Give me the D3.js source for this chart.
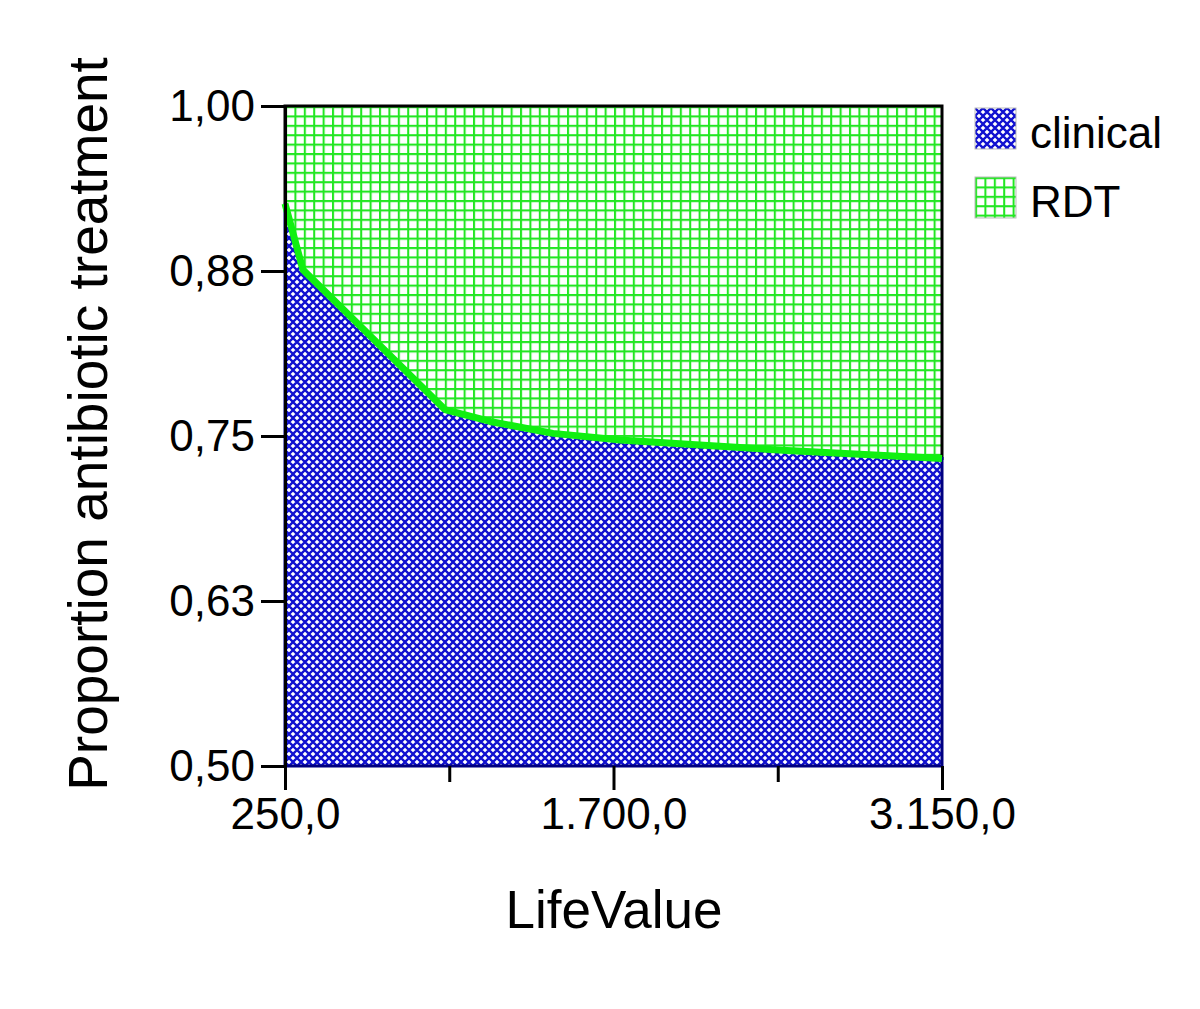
<!DOCTYPE html>
<html>
<head>
<meta charset="utf-8">
<script src="https://cdn.jsdelivr.net/npm/d3@7"></script>
<style>
  body { margin: 0; background: #fff; }
  text { font-family: "Liberation Sans", Arial, sans-serif; fill: #000; }
</style>
</head>
<body>
<div id="chart"></div>
<script>
// values
var lifeValue    = [250, 329, 956, 1155, 1433, 1729, 2466, 3150];
var clinicalProp = [0.926, 0.876, 0.770, 0.761, 0.752, 0.747, 0.739, 0.733];
var xTicks = [250, 975, 1700, 2425, 3150];
var xLabelled = [250, 1700, 3150];
var yTicks = [0.5, 0.625, 0.75, 0.875, 1.0];
var legendItems = ["clinical", "RDT"];

var width = 1200, height = 1009;
var margin = {top: 106, right: 258, bottom: 243, left: 285},
  plotW = width - margin.left - margin.right,
  plotH = height - margin.top - margin.bottom;

var de = d3.formatLocale({decimal: ",", thousands: ".", grouping: [3], currency: ["", ""]});
var fmtX = de.format(",.1f"),
  fmtY = de.format(".2f");

var x = d3.scaleLinear().domain([250, 3150]).range([0, plotW]);
var y = d3.scaleLinear().domain([0.5, 1.0]).range([plotH, 0]);

var svg = d3.select("#chart").append("svg")
  .attr("width", width)
  .attr("height", height);

var defs = svg.append("defs");

// green grid (RDT)
var gp = defs.append("pattern").attr("id", "grid")
  .attr("patternUnits", "userSpaceOnUse")
  .attr("x", 0).attr("y", 0)
  .attr("width", 9.4).attr("height", 9.4);
gp.append("rect").attr("width", 9.4).attr("height", 9.4).attr("fill", "#fff");
gp.append("path").attr("d", "M1,0V9.4M0,1H9.4")
  .attr("stroke", "#22e622").attr("stroke-width", 2.1).attr("fill", "none");

// blue crosshatch (clinical)
var bp = defs.append("pattern").attr("id", "hatch")
  .attr("patternUnits", "userSpaceOnUse")
  .attr("width", 8).attr("height", 8);
bp.append("rect").attr("width", 8).attr("height", 8).attr("fill", "#fff");
bp.append("path").attr("d", "M-4,-4L12,12M12,-4L-4,12")
  .attr("stroke", "#1010d0").attr("stroke-width", 2.3).attr("fill", "none");

var g = svg.append("g").attr("transform", "translate(" + margin.left + "," + margin.top + ")");

var pts = lifeValue.map(function (v, i) { return [v, clinicalProp[i]]; });
var line = d3.line().x(function (d) { return x(d[0]); }).y(function (d) { return y(d[1]); });

// RDT region (above boundary)
var rdtPts = [[250, 1], [3150, 1]].concat(pts.slice().reverse());
g.append("path")
  .attr("d", line(rdtPts) + "Z")
  .attr("fill", "url(#grid)")
  .attr("stroke", "#000").attr("stroke-width", 3);

// clinical region (below boundary)
var clinPts = pts.concat([[3150, 0.5], [250, 0.5]]);
g.append("path")
  .attr("d", line(clinPts) + "Z")
  .attr("fill", "url(#hatch)")
  .attr("stroke", "#000080").attr("stroke-width", 3);

// boundary line
g.append("path")
  .attr("d", line(pts))
  .attr("fill", "none")
  .attr("stroke", "#10f010").attr("stroke-width", 7)
  .attr("stroke-linejoin", "round");

// y axis
var yAxis = g.append("g")
  .call(d3.axisLeft(y).tickValues(yTicks).tickSize(24).tickSizeOuter(0).tickPadding(6)
    .tickFormat(function (d) { return fmtY(d); }));
yAxis.select(".domain").attr("stroke", "#000").attr("stroke-width", 3);
yAxis.selectAll(".tick line").attr("stroke", "#000").attr("stroke-width", 3);
yAxis.selectAll(".tick text").attr("font-size", 44).attr("font-family", "Liberation Sans, Arial, sans-serif");

// x axis
var xAxis = g.append("g")
  .attr("transform", "translate(0," + plotH + ")")
  .call(d3.axisBottom(x).tickValues(xTicks).tickSize(24).tickSizeOuter(0).tickPadding(8)
    .tickFormat(function (d) { return xLabelled.indexOf(d) >= 0 ? fmtX(d) : ""; }));
xAxis.select(".domain").remove();
xAxis.selectAll(".tick line")
  .attr("stroke", "#000").attr("stroke-width", 3)
  .attr("y2", function (d) { return xLabelled.indexOf(d) >= 0 ? 24 : 16; });
xAxis.selectAll(".tick text").attr("font-size", 44).attr("font-family", "Liberation Sans, Arial, sans-serif");

// axis titles
svg.append("text")
  .attr("x", 614)
  .attr("y", 928)
  .attr("text-anchor", "middle")
  .attr("font-size", 53)
  .text("LifeValue");

svg.append("text")
  .attr("transform", "translate(107,424) rotate(-90)")
  .attr("text-anchor", "middle")
  .attr("font-size", 55)
  .text("Proportion antibiotic treatment");

// legend
var legend = svg.append("g").attr("transform", "translate(975,108)");
var li = legend.selectAll("g").data(legendItems).enter().append("g")
  .attr("transform", function (d, i) { return "translate(0," + i * 69 + ")"; });
li.append("rect")
  .attr("width", 41).attr("height", 41)
  .attr("fill", function (d, i) { return i === 0 ? "url(#hatch)" : "url(#grid)"; })
  .attr("stroke", "#bbb").attr("stroke-width", 1);
li.append("text")
  .attr("x", 55).attr("y", 40)
  .attr("font-size", 44)
  .text(function (d) { return d; });
</script>
</body>
</html>
